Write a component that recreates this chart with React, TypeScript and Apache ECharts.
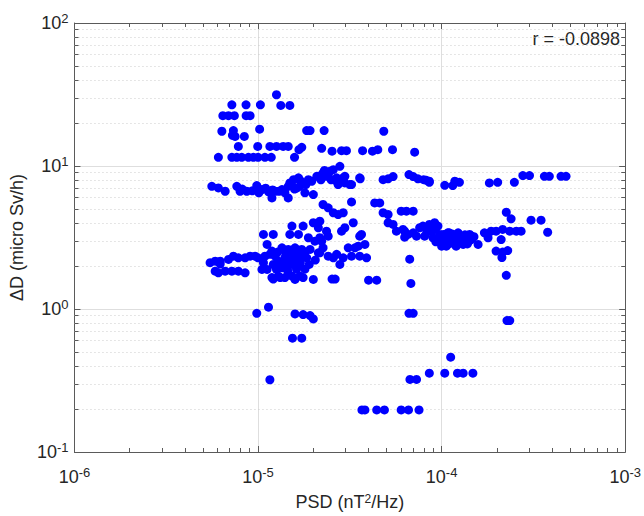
import React, { useEffect, useRef } from "react";
import * as echarts from "echarts";

// [PSD (nT^2/Hz), ΔD (micro Sv/h)]
const topCluster: [number, number][] = [
  [1.26e-5, 31.5],
  [7.2e-6, 26.8], [8.6e-6, 26.8], [1.03e-5, 26.8], [1.33e-5, 26.5], [1.49e-5, 26.5],
  [6.43e-6, 22.5], [6.9e-6, 22.5], [7.43e-6, 22.5], [8.61e-6, 22.5], [9.05e-6, 22.5],
  [6.35e-6, 17.5], [7.34e-6, 17.7], [1.02e-5, 18.1], [1.84e-5, 17.7], [1.92e-5, 17.7], [2.29e-5, 17.7], [4.84e-5, 17.5],
  [7.25e-6, 16.4], [7.5e-6, 16.1], [8.42e-6, 16.1],
  [7.81e-6, 13.7], [9.96e-6, 13.7], [1.16e-5, 13.7], [1.26e-5, 13.7], [1.37e-5, 13.7], [1.46e-5, 13.7],
  [1.73e-5, 13.5], [1.67e-5, 13.0], [2.22e-5, 13.3],
  [2.53e-5, 12.7], [2.85e-5, 12.8], [3.03e-5, 12.8], [3.71e-5, 12.8], [4.2e-5, 12.7], [4.49e-5, 13.0], [5.4e-5, 13.0], [7.13e-5, 12.5],
  [6.08e-6, 11.5], [7.2e-6, 11.5], [7.66e-6, 11.5], [8.15e-6, 11.5], [8.86e-6, 11.5], [9.43e-6, 11.5],
  [1.0e-5, 11.5], [1.09e-5, 11.5], [1.18e-5, 11.5], [1.58e-5, 11.5],
];

const upperBand: [number, number][] = [
  [5.6e-6, 7.21], [6.08e-6, 7.03], [6.62e-6, 6.66], [7.66e-6, 7.21], [7.98e-6, 6.66], [8.2e-6, 6.9], [8.68e-6, 6.66],
  [9.3e-6, 6.7], [9.84e-6, 7.3], [1.01e-5, 6.5], [1.05e-5, 6.84], [1.1e-5, 7.0], [1.14e-5, 6.6], [1.19e-5, 5.98],
  [1.2e-5, 6.8], [1.24e-5, 6.66], [1.3e-5, 6.66], [1.35e-5, 6.84], [1.4e-5, 6.5], [1.46e-5, 5.98], [1.46e-5, 7.2],
  [1.49e-5, 7.62], [1.52e-5, 7.62], [1.56e-5, 8.03], [1.58e-5, 6.9], [1.62e-5, 7.0], [1.66e-5, 8.26], [1.69e-5, 7.21],
  [1.75e-5, 7.6], [1.8e-5, 6.49], [1.88e-5, 8.03], [1.96e-5, 7.82], [2.0e-5, 6.31], [2.09e-5, 8.47], [2.13e-5, 8.47],
  [2.26e-5, 8.95], [2.36e-5, 8.47], [2.41e-5, 8.71], [2.46e-5, 9.18], [2.57e-5, 9.43], [2.68e-5, 8.26], [2.68e-5, 7.82],
  [2.73e-5, 7.41], [2.79e-5, 9.95], [2.91e-5, 8.26], [2.97e-5, 7.62], [2.97e-5, 8.47], [3.16e-5, 7.41], [3.23e-5, 7.41],
  [3.58e-5, 8.26], [3.6e-5, 8.13], [4.8e-5, 8.03], [5.11e-5, 8.13], [5.44e-5, 8.43], [6.64e-5, 8.71], [7.0e-5, 8.43],
  [7.43e-5, 8.13], [7.98e-5, 8.03], [8.26e-5, 7.94], [8.57e-5, 7.82], [8.57e-5, 7.69], [1.04e-4, 7.33], [1.15e-4, 7.3],
  [1.18e-4, 7.82], [1.25e-4, 7.69], [1.82e-4, 7.62], [2.02e-4, 7.69], [2.49e-4, 7.69], [2.77e-4, 8.57], [3.01e-4, 8.57],
  [3.63e-4, 8.47], [3.86e-4, 8.47], [4.47e-4, 8.47], [4.76e-4, 8.47],
  [2.26e-5, 5.38], [2.41e-5, 5.1], [3.23e-5, 5.61], [4.32e-5, 5.52], [4.6e-5, 5.52],
  [1.7e-5, 7.9], [1.82e-5, 7.4], [2.2e-5, 8.0], [2.5e-5, 8.0], [2.3e-5, 9.3],
];

const midCluster: [number, number][] = [
  [2.57e-5, 4.71], [2.73e-5, 4.58], [2.91e-5, 4.71], [4.8e-5, 4.71], [5.11e-5, 4.58], [6.02e-5, 4.83], [6.43e-5, 4.83],
  [7.0e-5, 4.83], [5.11e-5, 4.01], [5.44e-5, 3.9], [5.67e-5, 3.5], [6.29e-5, 3.5], [6.56e-5, 3.32], [7.0e-5, 3.41],
  [7.59e-5, 3.7], [7.91e-5, 3.8], [8.57e-5, 3.9], [9.16e-5, 4.01], [9.55e-5, 3.8], [8.97e-5, 3.15], [9.75e-5, 3.32],
  [1.04e-4, 2.98], [1.08e-4, 2.83], [6.29e-5, 3.18], [7.3e-5, 3.23], [8.08e-5, 3.23], [6.16e-5, 3.6], [9.3e-5, 2.95],
  [9.96e-5, 2.9], [1.02e-4, 3.32], [1.1e-4, 3.41], [1.15e-4, 3.06], [1.25e-4, 3.23], [1.36e-4, 3.15], [1.45e-4, 3.06],
  [1.58e-4, 2.83], [1.06e-4, 2.75], [1.2e-4, 2.75], [1.31e-4, 2.83], [1.08e-4, 3.41], [1.23e-4, 3.41], [1.42e-4, 3.32],
  [1.08e-4, 2.9], [1.18e-4, 2.83], [1.12e-4, 3.2], [1.3e-4, 3.0], [1.4e-4, 2.95], [1.5e-4, 3.2], [1.2e-4, 2.95],
  [1.1e-4, 3.1], [1.71e-4, 3.41], [1.79e-4, 3.15], [1.86e-4, 3.5], [1.98e-4, 3.5], [2.15e-4, 3.6], [2.35e-4, 3.5],
  [2.55e-4, 3.5], [2.71e-4, 3.5], [2.11e-4, 3.06], [1.98e-4, 2.54], [2.15e-4, 2.5], [2.29e-4, 2.56], [2.25e-4, 4.75],
  [2.39e-4, 4.27], [3.07e-4, 4.18], [3.48e-4, 4.18], [3.78e-4, 3.44],
  [1.0e-4, 3.1], [1.05e-4, 3.25], [1.14e-4, 3.35], [1.17e-4, 2.9], [1.27e-4, 3.1], [1.34e-4, 3.3], [1.38e-4, 2.85],
  [1.45e-4, 3.25], [9.5e-5, 3.05], [1.0e-4, 2.75], [8.8e-5, 3.5], [9.2e-5, 3.6], [8.3e-5, 3.45],
  [1.07e-5, 3.32], [1.21e-5, 3.32], [1.53e-5, 3.8], [1.76e-5, 3.8], [2.0e-5, 4.01], [2.13e-5, 3.7], [1.49e-5, 3.32],
  [1.66e-5, 3.32], [1.88e-5, 3.15], [2.04e-5, 2.98], [1.12e-5, 2.83], [1.19e-5, 2.54], [1.35e-5, 2.68], [1.46e-5, 2.61],
  [1.59e-5, 2.68], [1.73e-5, 2.61], [1.92e-5, 2.61], [2.22e-5, 2.98], [2.17e-5, 4.11], [2.36e-5, 3.5], [2.41e-5, 3.23],
  [2.17e-5, 3.15], [2.26e-5, 2.68], [3.1e-5, 2.68], [2.97e-5, 3.7], [2.85e-5, 3.5], [3.58e-5, 3.23], [3.51e-5, 2.75],
  [3.82e-5, 2.83], [3.37e-5, 2.68], [3.66e-5, 3.32], [3.3e-5, 4.01],
];

const lowerCluster: [number, number][] = [
  [5.48e-6, 2.11], [5.84e-6, 2.16], [6.22e-6, 2.16], [6.9e-6, 2.22], [7.34e-6, 2.34], [7.81e-6, 2.28], [8.5e-6, 2.28],
  [9.05e-6, 2.34], [9.63e-6, 2.34], [1.0e-5, 2.28], [1.09e-5, 2.34], [1.16e-5, 2.41], [1.24e-5, 2.34], [1.29e-5, 2.16],
  [1.4e-5, 2.28], [1.49e-5, 2.16], [1.59e-5, 2.22], [1.73e-5, 2.28], [1.84e-5, 2.28], [5.84e-6, 1.84], [6.08e-6, 1.79],
  [6.62e-6, 1.84], [7.2e-6, 1.84], [7.81e-6, 1.84], [8.5e-6, 1.79], [1.05e-5, 1.89], [1.12e-5, 1.89], [1.24e-5, 2.0],
  [1.35e-5, 1.94], [1.43e-5, 2.0], [1.53e-5, 2.05], [1.66e-5, 2.0], [1.26e-5, 1.89], [1.19e-5, 1.66], [1.29e-5, 1.7],
  [1.4e-5, 1.66], [1.53e-5, 1.7], [1.59e-5, 1.61], [1.69e-5, 1.7], [2.0e-5, 1.61], [1.07e-5, 2.11], [1.21e-5, 2.05],
  [6.22e-6, 2.06], [1.21e-5, 1.62], [1.32e-5, 1.66], [1.76e-5, 1.66], [1.9e-5, 2.05], [1.8e-5, 1.9], [2.05e-5, 2.2],
  [2.13e-5, 2.47], [2.17e-5, 2.47], [2.41e-5, 2.34], [2.57e-5, 2.28], [2.68e-5, 2.41], [2.79e-5, 2.05], [2.91e-5, 2.28],
  [3.23e-5, 2.34], [3.58e-5, 2.34], [3.9e-5, 2.28], [2.53e-5, 1.62], [2.63e-5, 1.62], [4.0e-5, 1.59], [4.43e-5, 1.59],
  [6.7e-5, 2.23], [6.8e-5, 1.51], [2.13e-4, 2.29], [2.25e-4, 1.72],
  [1.28e-5, 2.5], [1.42e-5, 2.45], [1.55e-5, 2.4], [1.62e-5, 2.55], [1.7e-5, 2.45], [1.8e-5, 2.5], [1.33e-5, 2.1],
  [1.45e-5, 1.85], [1.62e-5, 1.9], [1.7e-5, 2.1],
];

const sparseLow: [number, number][] = [
  [1.14e-5, 1.03], [9.84e-6, 0.933], [1.59e-5, 0.923], [1.76e-5, 0.914], [1.92e-5, 0.9], [2.0e-5, 0.852],
  [1.54e-5, 0.625], [1.73e-5, 0.625], [1.16e-5, 0.32], [6.64e-5, 0.933], [7.0e-5, 0.933], [2.27e-4, 0.83],
  [2.35e-4, 0.83], [1.12e-4, 0.46], [8.57e-5, 0.356], [1.04e-4, 0.356], [1.22e-4, 0.356], [1.31e-4, 0.356],
  [1.48e-4, 0.356], [6.72e-5, 0.322], [7.3e-5, 0.322], [3.68e-5, 0.197], [3.82e-5, 0.197], [4.43e-5, 0.197],
  [4.88e-5, 0.197], [6.02e-5, 0.197], [6.6e-5, 0.197], [7.53e-5, 0.197],
];

const xDecades = [1e-6, 1e-5, 1e-4];
const yDecades = [0.1, 1, 10];
const minorMultipliers = [2, 3, 4, 5, 6, 7, 8, 9];
const xRange: [number, number] = [1e-6, 1e-3];
const yRange: [number, number] = [0.1, 100];
const xTitle = "PSD (nT{sup|2}/Hz)";
const yTitle = "ΔD (micro Sv/h)";
const corrText = "r = -0.0898";

const FONT = '"Liberation Sans", Arial, Helvetica, sans-serif';
const TEXT = "#262626";
const FRAME = "#5a5a5a";

export default function App() {
  const ref = useRef<HTMLDivElement>(null);

  useEffect(() => {
    if (!ref.current) return;
    const chart = echarts.init(ref.current, null, { renderer: "svg" });

    const points = [...topCluster, ...upperBand, ...midCluster, ...lowerCluster, ...sparseLow];
    const xMinor: number[] = [];
    xDecades.forEach((d) => minorMultipliers.forEach((m) => xMinor.push(d * m)));
    const yMinor: number[] = [];
    yDecades.forEach((d) => minorMultipliers.forEach((m) => yMinor.push(d * m)));

    const gridW = 552;
    const gridH = 430;
    const minorLen = 4;
    const fx = Math.pow(10, (minorLen * 3) / gridW);
    const fy = Math.pow(10, (minorLen * 3) / gridH);

    const tickSegs: any[] = [
      ...xMinor.map((x) => [{ coord: [x, yRange[0]] }, { coord: [x, yRange[0] * fy] }]),
      ...xMinor.map((x) => [{ coord: [x, yRange[1]] }, { coord: [x, yRange[1] / fy] }]),
      ...yMinor.map((y) => [{ coord: [xRange[0], y] }, { coord: [xRange[0] * fx, y] }]),
      ...yMinor.map((y) => [{ coord: [xRange[1], y] }, { coord: [xRange[1] / fx, y] }]),
    ];

    const labelFormatter = (v: number) => `{b|10}{s|${Math.round(Math.log10(v))}}`;
    const rich = {
      b: { fontSize: 18, fontFamily: FONT, color: TEXT, lineHeight: 22 },
      s: { fontSize: 13, fontFamily: FONT, color: TEXT, lineHeight: 8, verticalAlign: "top" },
    };

    const baseAxis = {
      type: "log",
      logBase: 10,
      axisLine: { show: true, onZero: false, lineStyle: { color: FRAME, width: 1 } },
      axisTick: { show: true, inside: true, length: 6, lineStyle: { color: FRAME } },
    };

    chart.setOption({
      animation: false,
      backgroundColor: "#ffffff",
      grid: { left: 74, top: 23, width: gridW, height: gridH, containLabel: false },
      xAxis: [
        {
          ...baseAxis,
          min: xRange[0],
          max: xRange[1],
          position: "bottom",
          axisLabel: { formatter: labelFormatter, rich, margin: 14 },
          splitLine: { show: true, lineStyle: { color: "#dedede", width: 1 } },
          name: xTitle,
          nameLocation: "middle",
          nameGap: 41,
          nameTextStyle: {
            fontSize: 18,
            fontFamily: FONT,
            color: TEXT,
            rich: { sup: { fontSize: 12, fontFamily: FONT, color: TEXT, lineHeight: 8, verticalAlign: "top" } },
          },
        },
        {
          ...baseAxis,
          min: xRange[0],
          max: xRange[1],
          position: "top",
          axisLabel: { show: false },
          splitLine: { show: false },
        },
      ],
      yAxis: [
        {
          ...baseAxis,
          min: yRange[0],
          max: yRange[1],
          position: "left",
          axisLabel: { formatter: labelFormatter, rich, margin: 6 },
          splitLine: { show: true, lineStyle: { color: "#dedede", width: 1 } },
          name: yTitle,
          nameLocation: "middle",
          nameGap: 44,
          nameTextStyle: { fontSize: 18, fontFamily: FONT, color: TEXT },
        },
        {
          ...baseAxis,
          min: yRange[0],
          max: yRange[1],
          position: "right",
          axisLabel: { show: false },
          splitLine: { show: false },
        },
      ],
      graphic: [
        {
          type: "text",
          right: 24,
          top: 30,
          style: { text: corrText, fontSize: 18, fontFamily: FONT, fill: TEXT },
        },
      ],
      series: [
        {
          type: "scatter",
          data: [],
          z: 1,
          silent: true,
          markLine: {
            z: 1,
            silent: true,
            symbol: ["none", "none"],
            label: { show: false },
            lineStyle: { type: [1, 3], color: "#cccccc", width: 1 },
            emphasis: { disabled: true },
            data: [...xMinor.map((x) => ({ xAxis: x })), ...yMinor.map((y) => ({ yAxis: y }))],
          },
        },
        {
          type: "scatter",
          data: [],
          z: 2,
          silent: true,
          markLine: {
            z: 2,
            silent: true,
            symbol: ["none", "none"],
            label: { show: false },
            lineStyle: { type: "solid", color: FRAME, width: 1 },
            emphasis: { disabled: true },
            data: tickSegs,
          },
        },
        {
          type: "scatter",
          data: points,
          z: 3,
          symbol: "circle",
          symbolSize: 9,
          itemStyle: { color: "#0000ff", opacity: 1 },
          emphasis: { disabled: true },
        },
      ],
    });

    return () => chart.dispose();
  }, []);

  return (
    <div
      ref={ref}
      style={{ position: "absolute", left: 0, top: 0, width: 644, height: 516, background: "#fff" }}
    />
  );
}
